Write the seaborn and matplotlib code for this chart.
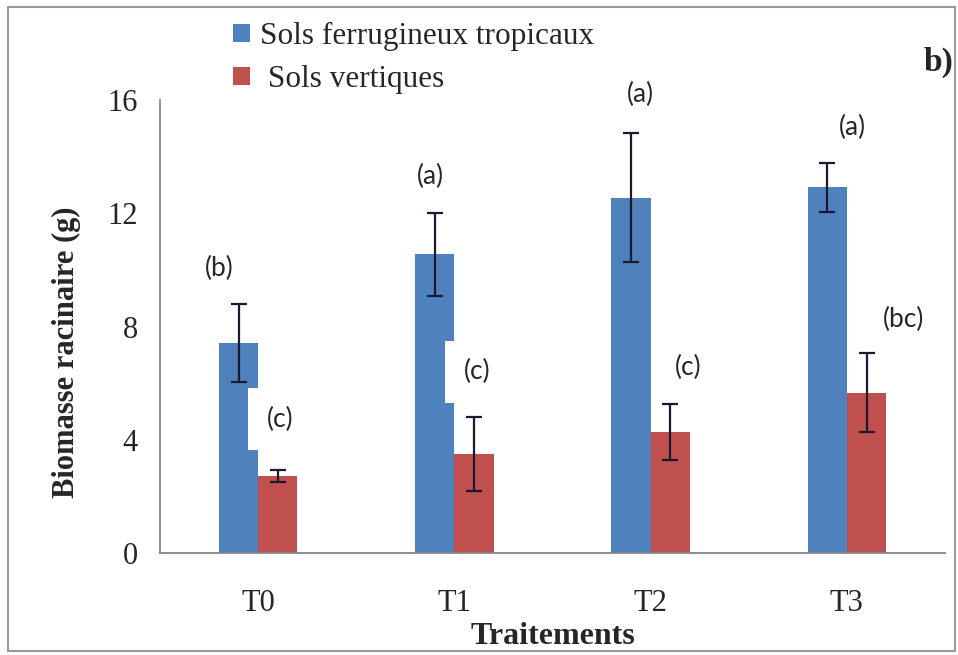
import numpy as np
import pandas as pd
import matplotlib
matplotlib.use("Agg")
import matplotlib.pyplot as plt
import seaborn as sns
from matplotlib.patches import Rectangle

# ---- data ----
traitements = ["T0", "T1", "T2", "T3"]
series = ["Sols ferrugineux tropicaux", " Sols vertiques"]
ferrugineux = [7.42, 10.55, 12.55, 12.92]
ferrugineux_err = [1.38, 1.47, 2.28, 0.86]
vertiques = [2.72, 3.50, 4.27, 5.66]
vertiques_err = [0.20, 1.30, 1.00, 1.40]
letters_ferr = ["(b)", "(a)", "(a)", "(a)"]
letters_vert = ["(c)", "(c)", "(c)", "(bc)"]
yticks = [0, 4, 8, 12, 16]

# layout-only offsets for letter annotations (category units / value units)
dx_ferr = [-0.20, -0.12, -0.05, 0.03]
dy_ferr = [1.25, 1.28, 1.36, 1.25]
dx_vert = [0.11, 0.115, 0.19, 0.29]
dy_vert = [1.8, 1.6, 1.27, 1.2]

colors = {series[0]: "#4F81BD", series[1]: "#C0504D"}

df = pd.DataFrame({
    "Traitement": traitements * 2,
    "Sol": [series[0]] * 4 + [series[1]] * 4,
    "val": ferrugineux + vertiques,
})

sns.set_style("white")
plt.rcParams["font.family"] = ["Liberation Serif", "DejaVu Serif"]

fig = plt.figure(figsize=(9.58, 6.55), dpi=100)
ax = fig.add_axes([160/958, 1-553/655, (945-160)/958, (553-100)/655])

sns.barplot(data=df, x="Traitement", y="val", hue="Sol", palette=colors,
            width=0.4, errorbar=None, saturation=1, ax=ax, legend=True,
            linewidth=0, edgecolor="none")

# error bars at the bar centres
errs = {series[0]: (ferrugineux, ferrugineux_err), series[1]: (vertiques, vertiques_err)}
for cont, s in zip(ax.containers, series):
    vals, e = errs[s]
    xs = [p.get_x() + p.get_width()/2 for p in cont.patches]
    ax.errorbar(xs, vals, yerr=e, fmt="none", ecolor="#1a1a2e", elinewidth=1.6,
                capsize=6, capthick=1.6, zorder=5)

# letters
lfont = dict(family=["Lato", "DejaVu Sans"], fontsize=19, ha="center", va="center")
for i in range(4):
    ax.text(i + dx_ferr[i], ferrugineux[i] + ferrugineux_err[i] + dy_ferr[i],
            letters_ferr[i], zorder=6, **lfont)
    ax.text(i + dx_vert[i], vertiques[i] + vertiques_err[i] + dy_vert[i],
            letters_vert[i], zorder=6,
            bbox=dict(boxstyle="square,pad=0.7", fc="white", ec="none"), **lfont)

ax.set_ylim(0, 16)
ax.set_xlim(-0.5, 3.5)
ax.set_yticks(yticks)
ax.set_yticklabels([str(t) for t in yticks])
sns.despine(ax=ax)
for sp in ["left", "bottom"]:
    ax.spines[sp].set_color("#868686")
    ax.spines[sp].set_linewidth(1.3)
ax.tick_params(axis="y", direction="out", length=7, width=1.2, color="#868686",
               labelsize=22, pad=9)
ax.tick_params(axis="x", length=0, labelsize=22, pad=26)

ax.set_ylabel("Biomasse racinaire (g)", fontsize=22, fontweight="bold")
ax.yaxis.set_label_coords(-0.100, 0.444)
ax.set_xlabel("Traitements", fontsize=23, fontweight="bold", labelpad=3)

leg = ax.legend(loc="upper left", bbox_to_anchor=(233/958, 1-22/655),
                bbox_transform=fig.transFigure, frameon=False, fontsize=22.5,
                handlelength=0.55, handleheight=0.55, handletextpad=0.3,
                labelspacing=0.45, borderpad=0, borderaxespad=0)

fig.text(938/958, 1-62/655, "b)", fontsize=24, fontweight="bold",
         ha="center", va="center")

fig.patches.append(Rectangle((8/958, 1-651/655), (955-8)/958, (651-7)/655,
                             transform=fig.transFigure, fill=False,
                             ec="#9a9a9a", lw=1.5))

fig.savefig("out.png", dpi=100)
